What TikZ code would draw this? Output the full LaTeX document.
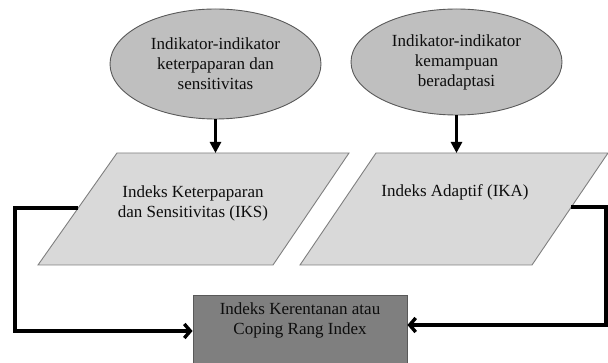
\documentclass[tikz,border=0pt]{standalone}
\usepackage{fontspec}
\setmainfont{Liberation Serif}
\usetikzlibrary{shapes.geometric,arrows.meta}
\definecolor{ellfill}{HTML}{BFBFBF}
\definecolor{parfill}{HTML}{D9D9D9}
\definecolor{boxfill}{HTML}{7F7F7F}
\definecolor{edge}{HTML}{595959}
\definecolor{txt}{HTML}{0D0D0D}
\tikzset{
  ellbox/.style={ellipse, draw=edge, fill=ellfill, line width=0.9pt, inner sep=0pt, align=center, text=txt},
  parbox/.style={draw=boxfill, fill=parfill, line width=0.9pt},
  resbox/.style={draw=edge, fill=boxfill, line width=0.9pt, inner sep=0pt},
  lbl/.style={align=center, text=txt, inner sep=0pt},
  downarr/.style={line width=2.6pt, -{Triangle[length=11pt,width=11pt]}},
  elbow/.style={line width=3.4pt, -{Straight Barb[length=6pt,width=14pt]}},
}
\begin{document}
\begin{tikzpicture}[x=1pt,y=-1pt,font=\fontsize{17}{20}\selectfont]
\useasboundingbox (0,0) rectangle (608,363);
% ellipses
\node[ellbox, minimum width=211pt, minimum height=110pt] (e1) at (215.5,64)
  {Indikator-indikator\\keterpaparan dan\\sensitivitas};
\node[ellbox, minimum width=211pt, minimum height=106pt] (e2) at (456.5,62)
  {Indikator-indikator\\kemampuan\\beradaptasi};
% parallelograms
\coordinate (p1tl) at (117,153); \coordinate (p1tr) at (349,153);
\coordinate (p1br) at (273,265); \coordinate (p1bl) at (38,265);
\draw[parbox] (p1tl) -- (p1tr) -- (p1br) -- (p1bl) -- cycle;
\coordinate (p2tl) at (376,153); \coordinate (p2tr) at (608,153);
\coordinate (p2br) at (532,265); \coordinate (p2bl) at (300,265);
\draw[parbox] (p2tl) -- (p2tr) -- (p2br) -- (p2bl) -- cycle;
\node[lbl] (t1) at (193,203) {Indeks Keterpaparan\\dan Sensitivitas (IKS)};
\node[lbl] (t2) at (455,192) {Indeks Adaptif (IKA)};
\coordinate (p1top) at (215.5,153);
\coordinate (p2top) at (456.5,153);
\coordinate (p1left) at (78,208);
\coordinate (p2right) at (571,207);
% result box
\node[resbox, minimum width=214pt, minimum height=68pt] (res) at (300,329) {};
\node[lbl] (rt) at (300,320) {Indeks Kerentanan atau\\Coping Rang Index};
% connectors
\draw[downarr] (e1.south) -- (p1top);
\draw[downarr] (e2.south) -- (p2top);
\draw[elbow] (p1left) -- (15,208) |- ([yshift=-2pt]res.west);
\draw[elbow] (p2right) -- (606,207) |- ([yshift=4pt]res.east);
\end{tikzpicture}
\end{document}
